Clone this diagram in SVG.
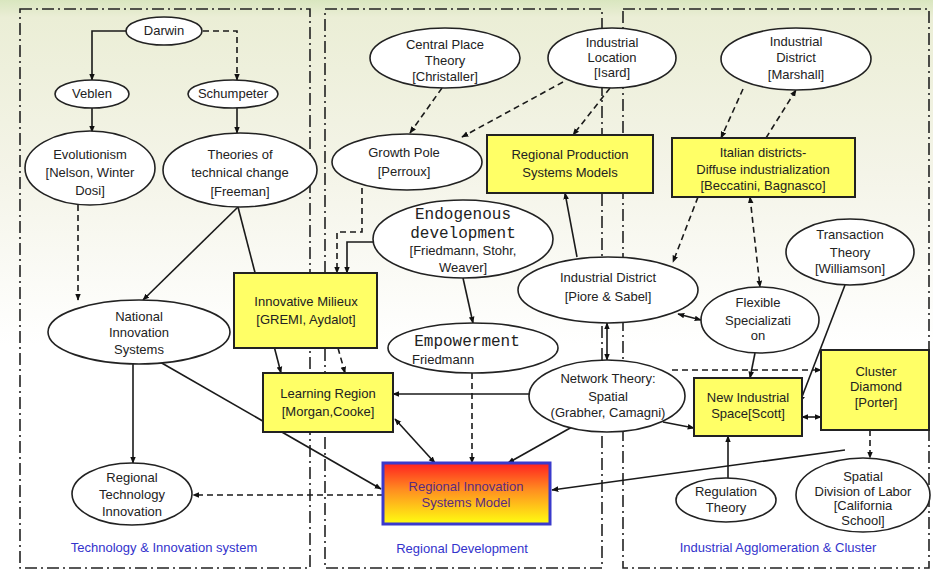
<svg xmlns="http://www.w3.org/2000/svg" width="933" height="576" viewBox="0 0 933 576">
  <defs>
    <linearGradient id="bg" x1="0" y1="0" x2="0" y2="1">
      <stop offset="0" stop-color="#d9e6bf"/>
      <stop offset="0.03" stop-color="#ebeed6"/>
      <stop offset="0.3" stop-color="#f4f4e8"/>
      <stop offset="0.6" stop-color="#ffffff"/>
      <stop offset="1" stop-color="#ffffff"/>
    </linearGradient>
    <linearGradient id="ris" x1="0" y1="0" x2="0" y2="1">
      <stop offset="0" stop-color="#ff2020"/>
      <stop offset="0.45" stop-color="#ff9020"/>
      <stop offset="1" stop-color="#ffff10"/>
    </linearGradient>
    <marker id="arr" viewBox="0 0 10 10" refX="9" refY="5" markerWidth="7" markerHeight="7" markerUnits="userSpaceOnUse" orient="auto-start-reverse">
      <path d="M0,1 L10,5 L0,9 Z" fill="#111"/>
    </marker>
    <style>
      .sec { fill: none; stroke: #222; stroke-width: 1.6; stroke-dasharray: 12 4 2 4; }
      .ell { fill: #ffffff; stroke: #222; stroke-width: 1.6; }
      .box { fill: #ffff66; stroke: #222; stroke-width: 2; }
      .c { fill: none; stroke: #1a1a1a; stroke-width: 1.6; }
      .d { fill: none; stroke: #1a1a1a; stroke-width: 1.6; stroke-dasharray: 6 4; }
      .e { marker-end: url(#arr); }
      .b { marker-start: url(#arr); marker-end: url(#arr); }
      text { font-family: "Liberation Sans", "DejaVu Sans", sans-serif; font-size: 13px; fill: #222; text-anchor: middle; }
      .big { font-family: "Liberation Mono", "DejaVu Sans Mono", monospace; font-size: 16px; }
      .lab { fill: #3333cc; font-size: 13px; }
      .risT { fill: #5a2a80; }
    </style>
  </defs>

  <rect width="933" height="576" fill="url(#bg)"/>

  <!-- section frames -->
  <g id="sections">
    <rect class="sec" x="20" y="9" width="290" height="559"/>
    <rect class="sec" x="325" y="9" width="277" height="559"/>
    <rect class="sec" x="623" y="9" width="306" height="559"/>
  </g>

  <!-- connectors -->
  <g id="connectors">
    <path class="c e" d="M126,31 H92 V80"/>
    <path class="d e" d="M203,31 H237 V80"/>
    <path class="c e" d="M92,108 V132"/>
    <path class="c e" d="M237,108 V133"/>
    <path class="d e" d="M78,205 V300"/>
    <path class="c e" d="M238,207 L143,300"/>
    <path class="c e" d="M238,207 L281,373"/>
    <path class="c e" d="M133,364 V463"/>
    <path class="c e" d="M160,362 L381,489"/>
    <path class="d e" d="M383,495 H193"/>
    <path class="d e" d="M442,88 L410,133"/>
    <path class="d e" d="M563,82 L462,137"/>
    <path class="d e" d="M610,88 L573,135"/>
    <path class="d e" d="M743,89 L721,138"/>
    <path class="d e" d="M766,138 L796,90"/>
    <path class="d e" d="M362,188 V232 H337 V273"/>
    <path class="c e" d="M373,242 H347 V273"/>
    <path class="c e" d="M463,278 L473,323"/>
    <path class="d e" d="M472,373 V463"/>
    <path class="d e" d="M338,348 L345,373"/>
    <path class="c e" d="M530,394 H393"/>
    <path class="c b" d="M435,463 L395,419"/>
    <path class="c e" d="M572,427 L508,463"/>
    <path class="c e" d="M577,257 L565,193"/>
    <path class="d e" d="M698,197 L673,262"/>
    <path class="d b" d="M750,197 L760,287"/>
    <path class="c b" d="M678,314 L701,320"/>
    <path class="c b" d="M607,323 V360"/>
    <path class="c e" d="M755,353 L750,378"/>
    <path class="d e" d="M672,370 H821"/>
    <path class="c e" d="M663,422 L694,428"/>
    <path class="c e" d="M845,285 L800,402"/>
    <path class="c b" d="M802,417 H821"/>
    <path class="d e" d="M870,430 V458"/>
    <path class="c e" d="M728,478 V436"/>
    <path class="c e" d="M845,450 L552,490"/>
  </g>

  <!-- Technology & Innovation system -->
  <g id="darwin">
    <ellipse class="ell" cx="164" cy="31" rx="38" ry="14"/>
    <text x="164" y="35">Darwin</text>
  </g>
  <g id="veblen">
    <ellipse class="ell" cx="92" cy="94" rx="37" ry="14"/>
    <text x="92" y="98">Veblen</text>
  </g>
  <g id="schumpeter">
    <ellipse class="ell" cx="233" cy="94" rx="45" ry="14"/>
    <text x="233" y="98">Schumpeter</text>
  </g>
  <g id="evolutionism">
    <ellipse class="ell" cx="90" cy="168" rx="65" ry="37"/>
    <text x="90" y="159">Evolutionism</text>
    <text x="90" y="177">[Nelson, Winter</text>
    <text x="90" y="195">Dosi]</text>
  </g>
  <g id="technical-change">
    <ellipse class="ell" cx="240" cy="170" rx="77" ry="37"/>
    <text x="240" y="159">Theories of</text>
    <text x="240" y="177">technical change</text>
    <text x="240" y="196">[Freeman]</text>
  </g>
  <g id="national-innovation">
    <ellipse class="ell" cx="139" cy="332" rx="91" ry="32"/>
    <text x="139" y="321">National</text>
    <text x="139" y="337">Innovation</text>
    <text x="139" y="354">Systems</text>
  </g>
  <g id="regional-technology">
    <ellipse class="ell" cx="132" cy="494" rx="60" ry="31"/>
    <text x="132" y="482">Regional</text>
    <text x="132" y="499">Technology</text>
    <text x="132" y="516">Innovation</text>
  </g>

  <!-- Regional Development -->
  <g id="central-place">
    <ellipse class="ell" cx="445" cy="58" rx="75" ry="30"/>
    <text x="445" y="49">Central Place</text>
    <text x="445" y="65">Theory</text>
    <text x="445" y="81">[Christaller]</text>
  </g>
  <g id="industrial-location">
    <ellipse class="ell" cx="612" cy="58" rx="64" ry="30"/>
    <text x="612" y="47">Industrial</text>
    <text x="612" y="62">Location</text>
    <text x="612" y="77">[Isard]</text>
  </g>
  <g id="growth-pole">
    <ellipse class="ell" cx="407" cy="162" rx="75" ry="28"/>
    <text x="404" y="157">Growth Pole</text>
    <text x="404" y="176">[Perroux]</text>
  </g>
  <g id="regional-production">
    <rect class="box" x="487" y="135" width="166" height="58"/>
    <text x="570" y="159">Regional Production</text>
    <text x="570" y="177">Systems Models</text>
  </g>
  <g id="endogenous">
    <ellipse class="ell" cx="463" cy="239" rx="90" ry="39"/>
    <text class="big" x="463" y="219">Endogenous</text>
    <text class="big" x="463" y="238">development</text>
    <text x="463" y="255">[Friedmann, Stohr,</text>
    <text x="463" y="272">Weaver]</text>
  </g>
  <g id="innovative-milieux">
    <rect class="box" x="234" y="273" width="143" height="75"/>
    <text x="306" y="306">Innovative Milieux</text>
    <text x="306" y="324">[GREMI, Aydalot]</text>
  </g>
  <g id="empowerment">
    <ellipse class="ell" cx="473" cy="348" rx="85" ry="25"/>
    <text class="big" x="467" y="346">Empowerment</text>
    <text x="412" y="364" style="text-anchor:start">Friedmann</text>
  </g>
  <g id="learning-region">
    <rect class="box" x="263" y="373" width="130" height="59"/>
    <text x="328" y="398">Learning Region</text>
    <text x="328" y="416">[Morgan,Cooke]</text>
  </g>
  <g id="ris-model">
    <rect x="383" y="463" width="167" height="61" fill="url(#ris)" stroke="#3a3acc" stroke-width="3"/>
    <text class="risT" x="466" y="491">Regional Innovation</text>
    <text class="risT" x="466" y="507">Systems Model</text>
  </g>

  <!-- Industrial Agglomeration & Cluster -->
  <g id="marshall">
    <ellipse class="ell" cx="796" cy="59" rx="75" ry="31"/>
    <text x="796" y="46">Industrial</text>
    <text x="796" y="62">District</text>
    <text x="796" y="79">[Marshall]</text>
  </g>
  <g id="italian-districts">
    <rect class="box" x="672" y="138" width="183" height="59"/>
    <text x="763" y="157">Italian districts-</text>
    <text x="763" y="174">Diffuse industrialization</text>
    <text x="763" y="190">[Beccatini, Bagnasco]</text>
  </g>
  <g id="piore-sabel">
    <ellipse class="ell" cx="608" cy="290" rx="90" ry="33"/>
    <text x="608" y="282">Industrial District</text>
    <text x="608" y="301">[Piore &amp; Sabel]</text>
  </g>
  <g id="transaction">
    <ellipse class="ell" cx="850" cy="252" rx="64" ry="33"/>
    <text x="850" y="239">Transaction</text>
    <text x="850" y="257">Theory</text>
    <text x="850" y="273">[Williamson]</text>
  </g>
  <g id="flexible">
    <ellipse class="ell" cx="760" cy="320" rx="59" ry="33"/>
    <text x="758" y="307">Flexible</text>
    <text x="758" y="325">Specializati</text>
    <text x="758" y="340">on</text>
  </g>
  <g id="network-theory">
    <ellipse class="ell" cx="607" cy="396" rx="78" ry="36"/>
    <text x="608" y="383">Network Theory:</text>
    <text x="608" y="401">Spatial</text>
    <text x="608" y="417">(Grabher, Camagni)</text>
  </g>
  <g id="new-industrial-space">
    <rect class="box" x="694" y="378" width="108" height="58"/>
    <text x="748" y="402">New Industrial</text>
    <text x="748" y="418">Space[Scott]</text>
  </g>
  <g id="cluster-diamond">
    <rect class="box" x="821" y="350" width="108" height="80"/>
    <text x="876" y="376">Cluster</text>
    <text x="876" y="391">Diamond</text>
    <text x="876" y="407">[Porter]</text>
  </g>
  <g id="regulation">
    <ellipse class="ell" cx="726" cy="500" rx="50" ry="22"/>
    <text x="726" y="496">Regulation</text>
    <text x="726" y="512">Theory</text>
  </g>
  <g id="spatial-division">
    <ellipse class="ell" cx="863" cy="495" rx="67" ry="37"/>
    <text x="863" y="481">Spatial</text>
    <text x="863" y="496">Division of Labor</text>
    <text x="863" y="510">[California</text>
    <text x="863" y="525">School]</text>
  </g>

  <!-- section captions -->
  <g id="captions">
    <text class="lab" x="164" y="552">Technology &amp; Innovation system</text>
    <text class="lab" x="462" y="553">Regional Development</text>
    <text class="lab" x="778" y="552">Industrial Agglomeration &amp; Cluster</text>
  </g>
</svg>
